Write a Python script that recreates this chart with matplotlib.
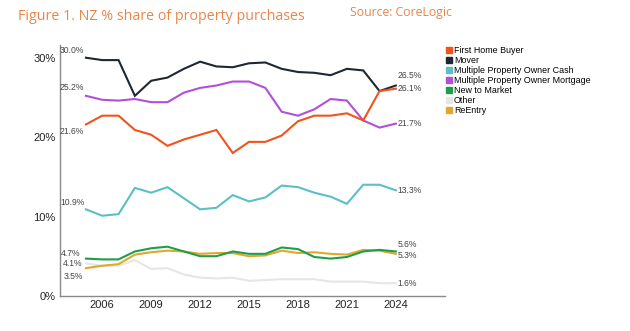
import matplotlib.pyplot as plt
from matplotlib.lines import Line2D

# Annual share of property purchases (%)
years = list(range(2005, 2025))

first_home_buyer = [21.6, 22.7, 22.7, 20.9, 20.3, 18.9, 19.7, 20.3, 20.9, 18.0,
                    19.4, 19.4, 20.2, 22.0, 22.7, 22.7, 23.0, 22.1, 25.8, 26.1]
mover = [30.0, 29.7, 29.7, 25.2, 27.1, 27.5, 28.6, 29.5, 28.9, 28.8,
         29.3, 29.4, 28.6, 28.2, 28.1, 27.8, 28.6, 28.4, 25.8, 26.5]
mpo_cash = [10.9, 10.1, 10.3, 13.6, 13.0, 13.7, 12.3, 10.9, 11.1, 12.7,
            11.9, 12.4, 13.9, 13.7, 13.0, 12.5, 11.6, 14.0, 14.0, 13.3]
mpo_mortgage = [25.2, 24.7, 24.6, 24.8, 24.4, 24.4, 25.6, 26.2, 26.5, 27.0,
                27.0, 26.2, 23.2, 22.7, 23.5, 24.8, 24.6, 22.1, 21.2, 21.7]
new_to_market = [4.7, 4.6, 4.6, 5.6, 6.0, 6.2, 5.6, 5.0, 5.0, 5.6,
                 5.3, 5.3, 6.1, 5.9, 4.9, 4.7, 4.9, 5.6, 5.8, 5.6]
other = [4.1, 3.8, 3.8, 4.5, 3.4, 3.5, 2.7, 2.3, 2.2, 2.3,
         1.9, 2.0, 2.1, 2.1, 2.1, 1.8, 1.8, 1.8, 1.6, 1.6]
reentry = [3.5, 3.8, 4.0, 5.2, 5.5, 5.7, 5.6, 5.3, 5.4, 5.4,
           5.0, 5.1, 5.7, 5.4, 5.5, 5.3, 5.2, 5.8, 5.7, 5.3]

series = {
    "First Home Buyer": first_home_buyer,
    "Mover": mover,
    "Multiple Property Owner Cash": mpo_cash,
    "Multiple Property Owner Mortgage": mpo_mortgage,
    "New to Market": new_to_market,
    "Other": other,
    "ReEntry": reentry,
}
colors = {
    "First Home Buyer": "#F0531C",
    "Mover": "#1E2833",
    "Multiple Property Owner Cash": "#5CBEC6",
    "Multiple Property Owner Mortgage": "#B24FD8",
    "New to Market": "#1F9E4A",
    "Other": "#E6E6E6",
    "ReEntry": "#E2A82E",
}
# pixel offsets for the start / end value labels
start_offsets = {
    "First Home Buyer": -7, "Mover": 7, "Multiple Property Owner Cash": 7,
    "Multiple Property Owner Mortgage": 8, "New to Market": 5, "Other": 0,
    "ReEntry": -8,
}
end_offsets = {
    "First Home Buyer": 0, "Mover": 10, "Multiple Property Owner Cash": 0,
    "Multiple Property Owner Mortgage": 0, "New to Market": 7, "Other": 0,
    "ReEntry": -2,
}
start_dx = {
    "First Home Buyer": -26, "Mover": -26, "Multiple Property Owner Cash": -26,
    "Multiple Property Owner Mortgage": -26, "New to Market": -25, "Other": -23,
    "ReEntry": -22,
}

plt.rcParams["font.family"] = ["Liberation Sans", "DejaVu Sans"]

fig = plt.figure(figsize=(6.3, 3.31), dpi=100)
ax = fig.add_axes([0.095, 0.106, 0.611, 0.758])

draw_order = ["Other", "ReEntry", "New to Market", "Multiple Property Owner Cash",
              "Multiple Property Owner Mortgage", "Mover", "First Home Buyer"]
for name in draw_order:
    vals = series[name]
    ax.plot(years, vals, color=colors[name], lw=1.5, solid_joinstyle="miter")
    ax.annotate(f"{vals[0]:.1f}%", xy=(years[0], vals[0]),
                xytext=(start_dx[name], start_offsets[name]),
                textcoords="offset pixels", ha="left", va="center",
                fontsize=6.2, color="#444444")
    ax.annotate(f"{vals[-1]:.1f}%", xy=(years[-1], vals[-1]),
                xytext=(2, end_offsets[name]), textcoords="offset pixels",
                ha="left", va="center", fontsize=6.2, color="#444444")

ax.set_xlim(2003.4, 2027.0)
ax.set_ylim(0, 31.6)
ax.set_xticks(range(2006, 2025, 3))
ax.set_yticks([0, 10, 20, 30])
ax.set_yticklabels([f"{v}%" for v in [0, 10, 20, 30]])
ax.tick_params(length=0, labelsize=8, colors="#222222", pad=3)
for side in ["top", "right"]:
    ax.spines[side].set_visible(False)
for side in ["left", "bottom"]:
    ax.spines[side].set_color("#8a8a8a")
    ax.spines[side].set_linewidth(1.0)

handles = [Line2D([], [], ls="", marker="s", markersize=4.5, color=colors[n])
           for n in series]
fig.legend(handles, list(series.keys()), loc="upper left",
           bbox_to_anchor=(0.708, 0.862), frameon=False, fontsize=6.4,
           handlelength=0.6, handletextpad=0.3, labelspacing=0.12,
           borderaxespad=0, borderpad=0)

fig.text(0.029, 0.950, "Figure 1. NZ % share of property purchases",
         fontsize=10.3, color="#E8864A", family="Open Sans", va="center")
fig.text(0.556, 0.962, "Source: CoreLogic", fontsize=8.8, color="#E8864A",
         family="Open Sans", va="center")

fig.savefig("out.png", dpi=100)
